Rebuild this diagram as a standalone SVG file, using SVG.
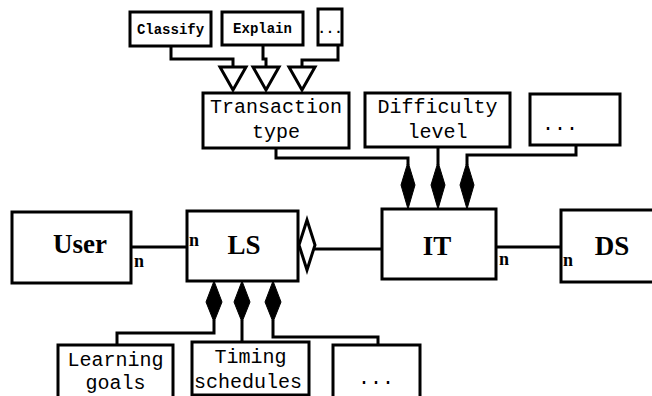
<svg xmlns="http://www.w3.org/2000/svg" width="652" height="396" viewBox="0 0 652 396">
<style>
.box{fill:#fff;stroke:#000;stroke-width:3}
.ln{fill:none;stroke:#000;stroke-width:3}
.tri{fill:#fff;stroke:#000;stroke-width:3;stroke-linejoin:miter}
.dia{fill:#000;stroke:#000;stroke-width:1}
.big{font-family:"Liberation Serif",serif;font-weight:bold;font-size:27px;text-anchor:middle}
.n{font-family:"Liberation Serif",serif;font-weight:bold;font-size:18px}
.mono{font-family:"Liberation Mono",monospace;font-size:20px;text-anchor:middle}
.sm{font-family:"Liberation Mono",monospace;font-weight:bold;font-size:14px;text-anchor:middle}
</style>
<rect width="652" height="396" fill="#fff"/>
<g id="connectors">
<polyline class="ln" points="171,46 171,59 233,59 233,67"/>
<polyline class="ln" points="263,45 263,59 266,59 266,67"/>
<polyline class="ln" points="338,45 338,60 302,60 302,67"/>
<polygon class="tri" points="220,67 246,67 233,90"/>
<polygon class="tri" points="253,67 279,67 266,90"/>
<polygon class="tri" points="289,67 315,67 302,90"/>
<polyline class="ln" points="276,148 276,158 408,158 408,165"/>
<line class="ln" x1="438" y1="147" x2="438" y2="165"/>
<polyline class="ln" points="576,145 576,155 467,155 467,165"/>
<polygon class="dia" points="408,162 415,185 408,209 401,185"/>
<polygon class="dia" points="438,162 445,185 438,209 431,185"/>
<polygon class="dia" points="467,162 474,185 467,209 460,185"/>
<line class="ln" x1="131" y1="247" x2="187" y2="247"/>
<line class="ln" x1="314" y1="249" x2="382" y2="249"/>
<polygon class="tri" points="307,220 315,245 307,270 299,245"/>
<line class="ln" x1="496" y1="247" x2="561" y2="247"/>
<polygon class="dia" points="214,281 222,302 214,322 206,302"/>
<polygon class="dia" points="242,281 250,302 242,322 234,302"/>
<polygon class="dia" points="273,281 281,302 273,322 265,302"/>
<polyline class="ln" points="214,320 214,333 117,333 117,345"/>
<line class="ln" x1="242" y1="320" x2="242" y2="342"/>
<polyline class="ln" points="273,320 273,337 378,337 378,345"/>
</g>
<g id="classify"><rect class="box" x="130" y="12" width="81" height="34"/><text class="sm" x="170.5" y="34">Classify</text></g>
<g id="explain"><rect class="box" x="222" y="12" width="81" height="33"/><text class="sm" x="262.5" y="33">Explain</text></g>
<g id="more-top"><rect class="box" x="318" y="9" width="24" height="36"/><text class="sm" x="330" y="33">...</text></g>
<g id="transaction"><rect class="box" x="203" y="93" width="146" height="55"/><text class="mono" x="276" y="113">Transaction</text><text class="mono" x="276" y="138">type</text></g>
<g id="difficulty"><rect class="box" x="365" y="93" width="145" height="54"/><text class="mono" x="437.5" y="113">Difficulty</text><text class="mono" x="437.5" y="138">level</text></g>
<g id="more-mid"><rect class="box" x="530" y="94" width="90" height="51"/><text class="mono" x="560" y="130">...</text></g>
<g id="user"><rect class="box" x="12" y="212" width="119" height="71"/><text class="big" x="80" y="253">User</text><text class="n" x="134" y="267">n</text></g>
<g id="ls"><rect class="box" x="187" y="211" width="111" height="70"/><text class="big" x="244" y="254">LS</text><text class="n" x="189" y="246">n</text></g>
<g id="it"><rect class="box" x="382" y="209" width="114" height="70"/><text class="big" x="437" y="255">IT</text><text class="n" x="499" y="265">n</text></g>
<g id="ds"><rect class="box" x="561" y="210" width="100" height="72"/><text class="big" x="612" y="255">DS</text><text class="n" x="563" y="266">n</text></g>
<g id="learning"><rect class="box" x="58" y="345" width="115" height="60"/><text class="mono" x="115.5" y="366">Learning</text><text class="mono" x="115.5" y="389">goals</text></g>
<g id="timing"><rect class="box" x="192" y="342" width="117" height="53"/><text class="mono" x="250.5" y="363">Timing</text><text class="mono" x="248" y="388">schedules</text></g>
<g id="more-bot"><rect class="box" x="333" y="345" width="87" height="60"/><text class="mono" x="376" y="384">...</text></g>
</svg>
